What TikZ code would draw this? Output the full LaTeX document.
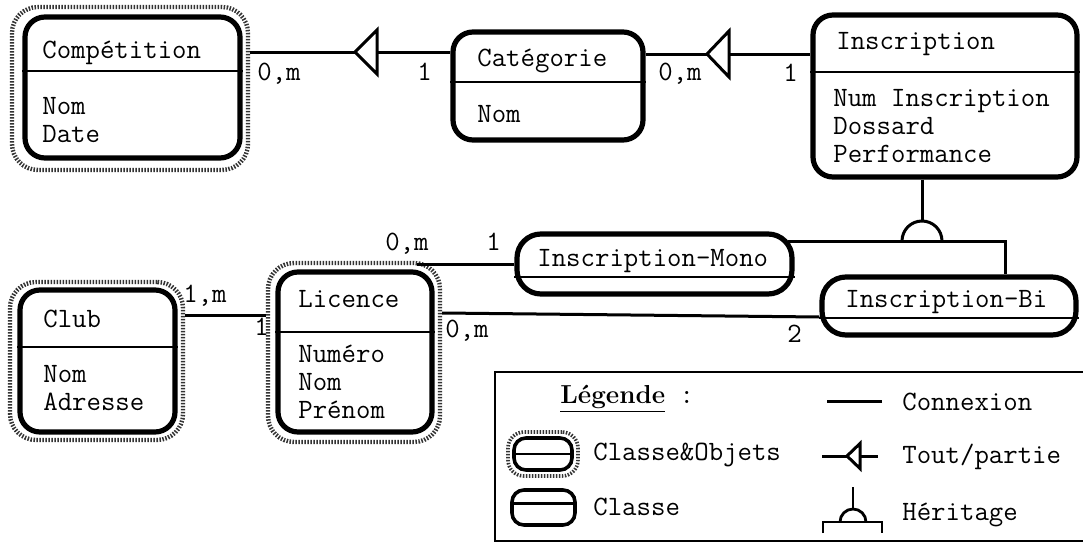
\documentclass[tikz,border=0pt]{standalone}
\usepackage{fontspec}
\usetikzlibrary{positioning,calc}

\begin{document}
\begin{tikzpicture}[x=0.5pt,y=-0.5pt,
  cls/.style={draw,line width=2.6pt,rounded corners=10pt,inner sep=0pt},
  obj/.style={draw=black!80,line width=2.2pt,dash pattern=on 0.75pt off 0.75pt,
              rounded corners=13pt,inner sep=0pt},
  txt/.style={font=\ttfamily\fontsize{14}{16}\selectfont,inner sep=0pt,anchor=base west},
  lien/.style={line width=1.5pt},
  sep/.style={line width=1.4pt}
]
\useasboundingbox (0,0) rectangle (1083,546);

% ---- Competition --------------------------------------------
\node[obj,minimum width=118pt,minimum height=81.5pt] (comp-o) at (130,88.5) {};
\node[cls,minimum width=107.5pt,minimum height=70.5pt] (comp) at (132.5,87.5) {};
\draw[sep] (comp.west |- 0,71) -- (comp.east |- 0,71);
\node[txt] (comp-t)  at (42,58)  {Compétition};
\node[txt] (comp-a1) at (42,114) {Nom};
\node[txt] (comp-a2) at (42,142) {Date};

% ---- Categorie ----------------------------------------------
\node[cls,minimum width=95pt,minimum height=54pt] (cat) at (548,86) {};
\draw[sep] (cat.west |- 0,82) -- (cat.east |- 0,82);
\node[txt] (cat-t)  at (477,67)  {Catégorie};
\node[txt] (cat-a1) at (477,122) {Nom};

% ---- Inscription --------------------------------------------
\node[cls,minimum width=132pt,minimum height=81pt] (insc) at (945,96) {};
\draw[sep] (insc.west |- 0,72) -- (insc.east |- 0,72);
\node[txt] (insc-t) at (836,49) {Inscription};
\foreach \t [count=\i from 0] in {Num Inscription,Dossard,Performance}
  \node[txt] (insc-a\i) at (833,106+28*\i) {\t};

% ---- Club ---------------------------------------------------
\node[obj,minimum width=86.5pt,minimum height=79pt] (club-o) at (96.5,361) {};
\node[cls,minimum width=77.5pt,minimum height=71pt] (club) at (97.5,361) {};
\draw[sep] (club.west |- 0,347) -- (club.east |- 0,347);
\node[txt] (club-t)  at (43,327) {Club};
\node[txt] (club-a1) at (43,382) {Nom};
\node[txt] (club-a2) at (43,410) {Adresse};

% ---- Licence ------------------------------------------------
\node[obj,minimum width=86pt,minimum height=89.5pt] (lic-o) at (354,352.5) {};
\node[cls,minimum width=77pt,minimum height=80pt] (lic) at (355,352) {};
\draw[sep] (lic.west |- 0,332) -- (lic.east |- 0,332);
\node[txt] (lic-t) at (298,307) {Licence};
\foreach \t [count=\i from 0] in {Numéro,Nom,Prénom}
  \node[txt] (lic-a\i) at (298,362+28*\i) {\t};

% ---- Inscription-Mono / Inscription-Bi ----------------------
\node[cls,rounded corners=12pt,minimum width=137.5pt,minimum height=30pt] (mono) at (654.5,264) {};
\draw[sep] (mono.west |- 0,277) -- (mono.east |- 0,277);
\node[txt] (mono-t) at (537,266) {Inscription-Mono};

\node[cls,rounded corners=12pt,minimum width=127pt,minimum height=29pt] (bi) at (949,306) {};
\draw[sep] (bi.west |- 0,318) -- (bi.east |- 0,318);
\node[txt] (bi-t) at (845,307) {Inscription-Bi};

% ---- Tout/partie connexions ---------------------------------
\coordinate (tp1) at (355,52);
\draw[lien] (comp-o.east |- tp1) -- (tp1);
\draw[lien] (tp1) -- ++(22,-22) -- ++(0,44) -- cycle;
\draw[lien] (tp1) ++(22,0) -- (cat.west |- tp1);
\node[txt] (lb1) at (257,80) {0,m};
\node[txt] (lb2) at (417,80) {1};

\coordinate (tp2) at (707,54);
\draw[lien] (cat.east |- tp2) -- (tp2);
\draw[lien] (tp2) -- ++(22,-23) -- ++(0,46) -- cycle;
\draw[lien] (tp2) ++(22,0) -- (insc.west |- tp2);
\node[txt] (lb3) at (658,80) {0,m};
\node[txt] (lb4) at (783,82) {1};

% ---- Connexions ---------------------------------------------
\draw[lien] ([yshift=23pt]club-o.east) -- ([yshift=23pt]club-o.east -| lic-o.west);
\node[txt] (lb5) at (183,302) {1,m};
\node[txt] (lb6) at (254,335) {1};

\draw[lien] (mono.west) -- ([xshift=-12.5pt]lic-o.north east |- mono.west);
\node[txt] (lb7) at (385,250) {0,m};
\node[txt] (lb8) at (486,250) {1};

\draw[lien] ([yshift=19.75pt]lic-o.east) -- ([yshift=-5.5pt]bi.west);
\node[txt] (lb9)  at (445,337) {0,m};
\node[txt] (lb10) at (787,342) {2};

% ---- Heritage -----------------------------------------------
\coordinate (her) at (922,241);
\draw[lien] (insc.south -| her) -- ([yshift=10pt]her);
\draw[lien] ([xshift=-10pt]her) arc[start angle=180,end angle=360,radius=20];
\draw[lien] ([xshift=-3.5pt]mono.east |- her) -| ([xshift=28pt]bi.north);

% ---- Legende ------------------------------------------------
\draw[line width=1.3pt] (1090,372) -- (495,372) -- (495,541) -- (1090,541);
\node[txt] (leg-t) at (560,403) {\underline{\rmfamily\bfseries\fontsize{13}{15}\selectfont Légende} :};

\node[obj,rounded corners=8pt,line width=1.8pt,minimum width=35pt,minimum height=22pt] (leg-co-o) at (543,454) {};
\node[cls,rounded corners=6pt,line width=1.8pt,minimum width=29pt,minimum height=16pt] (leg-co) at (543,454) {};
\draw[sep] (leg-co.west) -- (leg-co.east);
\node[txt] (leg-co-t) at (593,460) {Classe\&Objets};

\node[cls,rounded corners=6pt,line width=1.8pt,minimum width=31.5pt,minimum height=17.5pt] (leg-c) at (543.5,507.5) {};
\draw[sep] ([yshift=2pt]leg-c.west) -- ([yshift=2pt]leg-c.east);
\node[txt] (leg-c-t) at (593,515) {Classe};

\node[txt] (leg-cx) at (902,410) {Connexion};
\draw[lien] ([xshift=-10pt]leg-cx.west) -- ++(-55,0);

\node[txt] (leg-tp) at (902,463) {Tout/partie};
\coordinate (tp3) at (847,456);
\draw[lien] (tp3) -- ++(-25,0);
\draw[lien] (tp3) -- ++(13,-12.5) -- ++(0,25) -- cycle;
\draw[lien] (tp3) ++(13,0) -- ++(18,0);

\node[txt] (leg-h) at (902,520) {Héritage};
\coordinate (her2) at (853,522);
\draw[sep] ([yshift=6.5pt]her2) -- ++(0,-22);
\draw[sep] ([xshift=-6.5pt]her2) arc[start angle=180,end angle=360,radius=13];
\draw[sep] (823,533) -- (823,522) -- (882,522) -- (882,533);

\end{tikzpicture}
\end{document}
